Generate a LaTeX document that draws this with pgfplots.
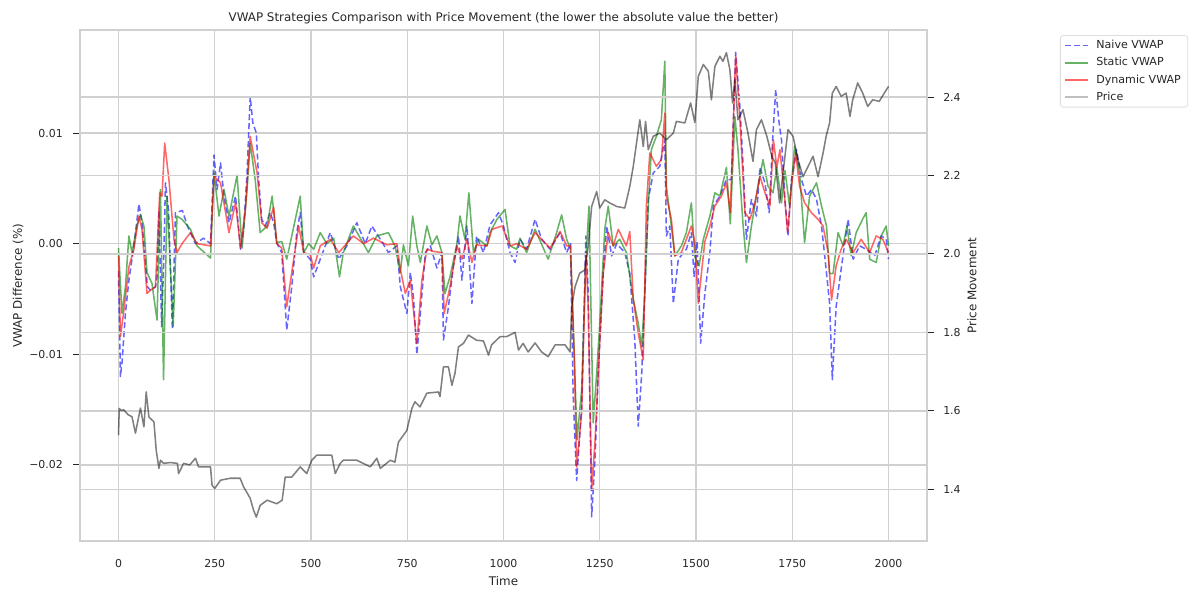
\documentclass[border=0pt]{standalone}
\usepackage{pgfplots}
\pgfplotsset{compat=1.18}
\usepackage{fontspec}
\setmainfont{DejaVu Sans}
\definecolor{textgray}{RGB}{38,38,38}
\definecolor{gridgray}{RGB}{208,208,208}
\definecolor{mgreen}{RGB}{0,128,0}
\definecolor{lblue}{RGB}{102,102,255}
\definecolor{lgreen}{RGB}{102,179,102}
\definecolor{lred}{RGB}{255,102,102}
\definecolor{lgray}{RGB}{128,128,128}

\pgfplotstableread{
t v
0 -0.0025
5 -0.0120
9 -0.0108
18 -0.0063
27 -0.0033
40 -0.0002
53 0.0036
61 0.0019
70 -0.0017
75 -0.0039
83 -0.0042
96 -0.0039
100 -0.0030
105 0.0030
112 -0.0075
117 -0.0020
122 0.0055
130 0.0030
140 -0.0077
148 0.0028
166 0.0030
179 0.0016
200 0.0000
221 0.0005
239 0.0000
248 0.0080
256 0.0049
265 0.0073
274 0.0043
287 0.0019
304 0.0043
317 -0.0005
325 0.0013
334 0.0064
342 0.0133
349 0.0109
358 0.0100
364 0.0058
372 0.0022
381 0.0016
394 0.0028
403 0.0019
411 0.0001
424 -0.0008
437 -0.0078
450 -0.0039
463 0.0010
472 0.0028
481 -0.0008
498 -0.0014
507 -0.0030
524 -0.0014
550 0.0010
572 -0.0014
593 -0.0002
619 0.0019
641 0.0000
658 0.0016
680 0.0004
701 -0.0008
723 -0.0002
732 -0.0039
749 -0.0063
758 -0.0026
766 -0.0048
775 -0.0100
784 -0.0063
797 -0.0008
810 -0.0002
827 -0.0022
840 -0.0008
844 -0.0087
857 -0.0057
870 -0.0020
883 0.0007
892 -0.0033
905 0.0016
918 -0.0054
930 0.0007
948 -0.0008
965 0.0017
987 0.0028
1000 0.0016
1017 -0.0008
1030 -0.0017
1043 0.0004
1060 -0.0005
1082 0.0022
1099 0.0004
1121 -0.0005
1147 0.0010
1164 -0.0008
1174 0.0000
1181 -0.0138
1190 -0.0214
1203 -0.0147
1214 0.0007
1220 -0.0045
1229 -0.0247
1238 -0.0192
1246 -0.0117
1259 -0.0027
1268 0.0016
1281 -0.0011
1294 0.0000
1315 -0.0008
1328 -0.0027
1341 -0.0087
1350 -0.0165
1359 -0.0117
1367 -0.0045
1376 0.0040
1389 0.0064
1406 0.0070
1419 0.0094
1423 0.0007
1432 0.0016
1441 -0.0054
1454 -0.0014
1475 -0.0005
1488 0.0010
1495 -0.0030
1503 0.0002
1512 -0.0090
1523 -0.0045
1536 -0.0008
1545 0.0034
1562 0.0043
1579 0.0058
1592 0.0058
1603 0.0173
1614 0.0124
1622 0.0073
1631 0.0004
1644 0.0040
1657 0.0025
1666 0.0069
1679 0.0055
1690 0.0028
1699 0.0094
1707 0.0139
1716 0.0109
1722 0.0094
1731 0.0040
1739 0.0007
1748 0.0058
1761 0.0085
1774 0.0058
1787 0.0043
1800 0.0049
1813 0.0040
1826 0.0016
1837 -0.0020
1847 -0.0054
1854 -0.0123
1864 -0.0057
1877 -0.0023
1895 0.0022
1908 -0.0014
1925 -0.0002
1942 -0.0005
1964 -0.0011
1981 0.0007
1994 0.0004
2000 -0.0014
}\naive

\pgfplotstableread{
t v
0 -0.0004
9 -0.0063
18 -0.0039
27 0.0007
35 -0.0008
48 0.0016
57 0.0026
66 0.0016
74 -0.0026
87 -0.0036
100 -0.0069
109 0.0049
117 -0.0123
126 0.0043
142 -0.0075
152 0.0025
165 0.0022
187 0.0013
204 -0.0002
239 -0.0013
248 0.0064
261 0.0025
274 0.0049
287 0.0025
308 0.0062
321 -0.0004
334 0.0049
342 0.0091
355 0.0058
368 0.0010
386 0.0016
399 0.0043
411 0.0001
424 0.0002
437 -0.0014
450 0.0007
472 0.0043
481 -0.0008
494 0.0000
507 -0.0005
524 0.0010
541 0.0000
559 0.0005
574 -0.0030
584 -0.0008
610 0.0016
628 0.0005
649 -0.0008
671 0.0007
701 0.0010
718 -0.0002
732 -0.0026
740 -0.0001
753 -0.0020
764 0.0025
775 -0.0002
784 -0.0017
801 0.0016
814 -0.0001
827 0.0007
840 -0.0008
848 -0.0045
861 -0.0030
879 0.0000
887 0.0025
900 0.0004
910 0.0046
922 -0.0008
935 0.0004
957 -0.0002
965 0.0010
983 0.0022
1004 0.0031
1017 -0.0002
1034 -0.0005
1043 0.0005
1060 -0.0008
1082 0.0013
1116 -0.0014
1138 0.0010
1151 0.0026
1164 0.0004
1174 -0.0005
1182 -0.0081
1191 -0.0177
1203 -0.0132
1214 -0.0014
1222 0.0034
1233 -0.0162
1242 -0.0117
1250 -0.0072
1263 0.0013
1272 0.0034
1285 -0.0002
1302 0.0004
1319 -0.0008
1337 -0.0050
1350 -0.0072
1359 -0.0093
1367 -0.0045
1376 0.0034
1384 0.0085
1397 0.0097
1410 0.0112
1419 0.0165
1423 0.0052
1436 0.0016
1445 -0.0011
1462 -0.0002
1475 0.0010
1488 0.0037
1497 -0.0012
1508 -0.0020
1519 0.0004
1536 0.0025
1549 0.0046
1562 0.0043
1579 0.0069
1589 0.0018
1601 0.0115
1609 0.0085
1622 0.0018
1631 -0.0017
1644 0.0016
1661 0.0052
1674 0.0076
1687 0.0052
1700 0.0046
1710 0.0069
1722 0.0037
1731 0.0066
1743 0.0034
1756 0.0088
1769 0.0064
1782 0.0001
1795 0.0043
1813 0.0055
1826 0.0034
1839 0.0016
1847 -0.0027
1856 -0.0027
1869 0.0010
1882 -0.0002
1892 0.0016
1903 -0.0011
1916 0.0010
1934 0.0023
1942 0.0028
1951 -0.0014
1968 -0.0017
1981 0.0007
1994 0.0016
2000 -0.0002
}\static

\pgfplotstableread{
t v
0 -0.0011
5 -0.0084
13 -0.0063
27 -0.0021
40 -0.0005
53 0.0025
61 0.0013
74 -0.0045
83 -0.0042
96 -0.0039
107 0.0046
113 0.0043
120 0.0091
131 0.0058
144 0.0004
152 -0.0008
165 0.0000
187 0.0010
204 0.0000
239 -0.0002
248 0.0061
265 0.0055
287 0.0010
304 0.0037
317 -0.0004
330 0.0033
342 0.0097
360 0.0064
372 0.0019
386 0.0014
403 0.0033
411 0.0000
424 -0.0004
437 -0.0057
450 -0.0026
468 0.0016
481 -0.0008
498 -0.0010
507 -0.0022
524 -0.0002
550 0.0004
572 -0.0008
610 0.0007
637 0.0000
662 0.0005
697 -0.0001
723 0.0000
732 -0.0023
745 -0.0045
758 -0.0033
775 -0.0090
788 -0.0033
801 -0.0005
818 -0.0007
840 -0.0008
846 -0.0063
861 -0.0039
879 -0.0002
892 -0.0014
905 0.0004
918 -0.0017
930 -0.0001
957 -0.0002
970 0.0013
996 0.0016
1017 -0.0002
1034 0.0000
1060 -0.0005
1082 0.0010
1121 -0.0004
1147 0.0011
1164 -0.0002
1174 -0.0002
1184 -0.0105
1190 -0.0202
1203 -0.0153
1214 -0.0008
1220 -0.0057
1229 -0.0223
1238 -0.0177
1246 -0.0117
1259 -0.0027
1272 0.0010
1285 -0.0002
1298 0.0013
1319 -0.0002
1328 0.0011
1337 -0.0050
1350 -0.0081
1363 -0.0105
1371 0.0034
1380 0.0082
1397 0.0070
1410 0.0076
1419 0.0118
1423 0.0043
1436 0.0022
1445 -0.0011
1462 -0.0008
1475 0.0004
1488 0.0016
1497 0.0001
1506 -0.0054
1514 -0.0027
1523 0.0002
1536 0.0016
1549 0.0034
1566 0.0043
1579 0.0055
1589 0.0028
1603 0.0170
1614 0.0112
1627 0.0028
1640 0.0022
1653 0.0037
1666 0.0061
1679 0.0046
1692 0.0034
1701 0.0094
1710 0.0069
1718 0.0085
1729 0.0046
1738 0.0010
1748 0.0052
1759 0.0082
1769 0.0052
1782 0.0037
1800 0.0028
1817 0.0022
1830 0.0016
1843 -0.0008
1852 -0.0051
1864 -0.0020
1877 -0.0005
1890 0.0004
1908 -0.0008
1929 0.0004
1951 -0.0008
1968 0.0007
1985 0.0004
2000 -0.0008
}\dynamic

\pgfplotstableread{
t p
0 1.538
2 1.606
8 1.600
13 1.603
25 1.590
35 1.585
44 1.543
57 1.607
66 1.559
72 1.648
79 1.584
92 1.572
98 1.499
105 1.453
109 1.474
117 1.466
135 1.468
153 1.466
156 1.440
169 1.466
185 1.462
200 1.479
208 1.457
239 1.457
243 1.410
250 1.402
265 1.423
290 1.428
316 1.428
325 1.406
342 1.377
351 1.346
358 1.329
368 1.359
386 1.372
411 1.363
425 1.372
433 1.431
450 1.431
472 1.457
489 1.440
502 1.474
515 1.487
533 1.487
554 1.487
563 1.440
576 1.466
584 1.474
619 1.474
654 1.457
671 1.479
680 1.453
706 1.474
718 1.469
727 1.520
749 1.550
762 1.606
770 1.623
783 1.610
801 1.645
831 1.648
835 1.636
844 1.712
857 1.712
866 1.665
874 1.696
883 1.763
896 1.772
909 1.793
930 1.780
948 1.778
961 1.742
969 1.768
991 1.789
1008 1.789
1030 1.800
1039 1.755
1051 1.772
1064 1.750
1082 1.773
1099 1.750
1116 1.738
1134 1.768
1160 1.768
1173 1.750
1177 1.865
1186 1.917
1198 1.951
1211 1.959
1220 2.019
1229 2.121
1242 2.159
1250 2.117
1263 2.138
1276 2.130
1294 2.121
1315 2.117
1328 2.172
1337 2.223
1354 2.342
1363 2.274
1369 2.338
1376 2.266
1389 2.300
1406 2.308
1423 2.291
1441 2.308
1449 2.338
1471 2.334
1486 2.385
1497 2.335
1506 2.453
1519 2.483
1532 2.466
1540 2.393
1549 2.478
1562 2.504
1570 2.491
1579 2.513
1588 2.470
1595 2.385
1601 2.444
1609 2.342
1622 2.368
1635 2.308
1648 2.236
1657 2.317
1670 2.342
1684 2.300
1697 2.249
1706 2.232
1717 2.130
1726 2.206
1739 2.317
1752 2.300
1765 2.240
1778 2.197
1791 2.223
1804 2.249
1817 2.197
1830 2.257
1838 2.300
1847 2.334
1854 2.410
1864 2.427
1877 2.402
1890 2.410
1900 2.351
1907 2.393
1920 2.436
1933 2.410
1946 2.376
1959 2.393
1976 2.389
1989 2.410
2000 2.427
}\price

\pgfplotsset{
  common/.style={
    at={(57.6bp,41.04bp)}, anchor=south west,
    scale only axis, width=609.84bp, height=367.92bp,
    xmin=-100, xmax=2100,
    axis line style={draw=gridgray, line width=1.0bp},
    grid style={draw=gridgray, line width=1.05bp},
    tick style={draw=textgray, line width=0.7bp},
    major tick length=5bp,
    tick align=outside,
    ticklabel style={font=\fontsize{7.9}{9.5}\selectfont, text=textgray},
    label style={font=\fontsize{8.6}{10.3}\selectfont, text=textgray},
    scaled ticks=false,
    clip=true,
  },
  vw/.style={line width=1.1bp, line join=round, opacity=0.6},
}

\begin{document}
\begin{tikzpicture}
\useasboundingbox (0,0) rectangle (864bp,430.56bp);
\begin{axis}[common,
  ymin=-0.02688, ymax=0.01932,
  xtick={0,250,500,750,1000,1250,1500,1750,2000},
  xticklabels={0,250,500,750,1000,1250,1500,1750,2000},
  ytick={-0.02,-0.01,0,0.01},
  yticklabels={−0.02,−0.01,0.00,0.01},
  xmajorgrids, ymajorgrids,
  ytick pos=left, xtick pos=bottom,
  x tick style={draw=none},
  xticklabel style={anchor=base, yshift=-14.4bp, inner sep=0pt},
  yticklabel style={anchor=east, inner sep=0pt, xshift=-7.2bp},
  xlabel={Time},
  xlabel style={at={(axis description cs:0.5,-0.08806)}, anchor=base, inner sep=0pt},
  ylabel={VWAP Difference (\%)},
  ylabel style={at={(axis description cs:-0.0685,0.5)}, anchor=base, rotate=0, inner sep=0pt},
  title={VWAP Strategies Comparison with Price Movement (the lower the absolute value the better)},
  title style={at={(axis description cs:0.5,1.0)}, anchor=base, inner sep=0pt, font=\fontsize{8.6}{10.3}\selectfont, text=textgray},
]
\addplot[vw, blue, dash pattern=on 4.3bp off 2.2bp] table[x=t,y=v]{\naive};
\addplot[vw, mgreen] table[x=t,y=v]{\static};
\addplot[vw, red] table[x=t,y=v]{\dynamic};
\end{axis}
\begin{axis}[common,
  ymin=1.268, ymax=2.571,
  axis y line*=right, axis x line=none,
  ytick={1.4,1.6,1.8,2.0,2.2,2.4},
  yticklabels={1.4,1.6,1.8,2.0,2.2,2.4},
  ymajorgrids,
  yticklabel style={anchor=west, inner sep=0pt, xshift=6.5bp},
  ylabel={Price Movement},
  ylabel style={at={(axis description cs:1.0584,0.5)}, anchor=base, rotate=0, inner sep=0pt},
  legend style={at={(axis description cs:1.157,0.990)}, anchor=north west,
    draw=gridgray!70, fill=white, rounded corners=2bp, line width=0.6bp,
    font=\fontsize{8}{9.6}\selectfont, text=textgray,
    inner xsep=3bp, inner ysep=1.5bp, row sep=0.8bp,
    /tikz/every odd column/.append style={column sep=3.2bp}},
  legend cell align=left,
]
\addlegendimage{legend image code/.code={\draw[line width=1.1bp, lblue, dash pattern=on 4.3bp off 2.2bp] (0bp,0bp) -- (16.6bp,0bp);}}
\addlegendentry{Naive VWAP}
\addlegendimage{legend image code/.code={\draw[line width=1.1bp, lgreen] (0bp,0bp) -- (16.6bp,0bp);}}
\addlegendentry{Static VWAP}
\addlegendimage{legend image code/.code={\draw[line width=1.1bp, lred] (0bp,0bp) -- (16.6bp,0bp);}}
\addlegendentry{Dynamic VWAP}
\addplot[line width=1.1bp, line join=round, black, opacity=0.5,
  legend image code/.code={\draw[line width=1.1bp, lgray] (0bp,0bp) -- (16.6bp,0bp);}] table[x=t,y=p]{\price};
\addlegendentry{Price}
\end{axis}
\end{tikzpicture}
\end{document}
